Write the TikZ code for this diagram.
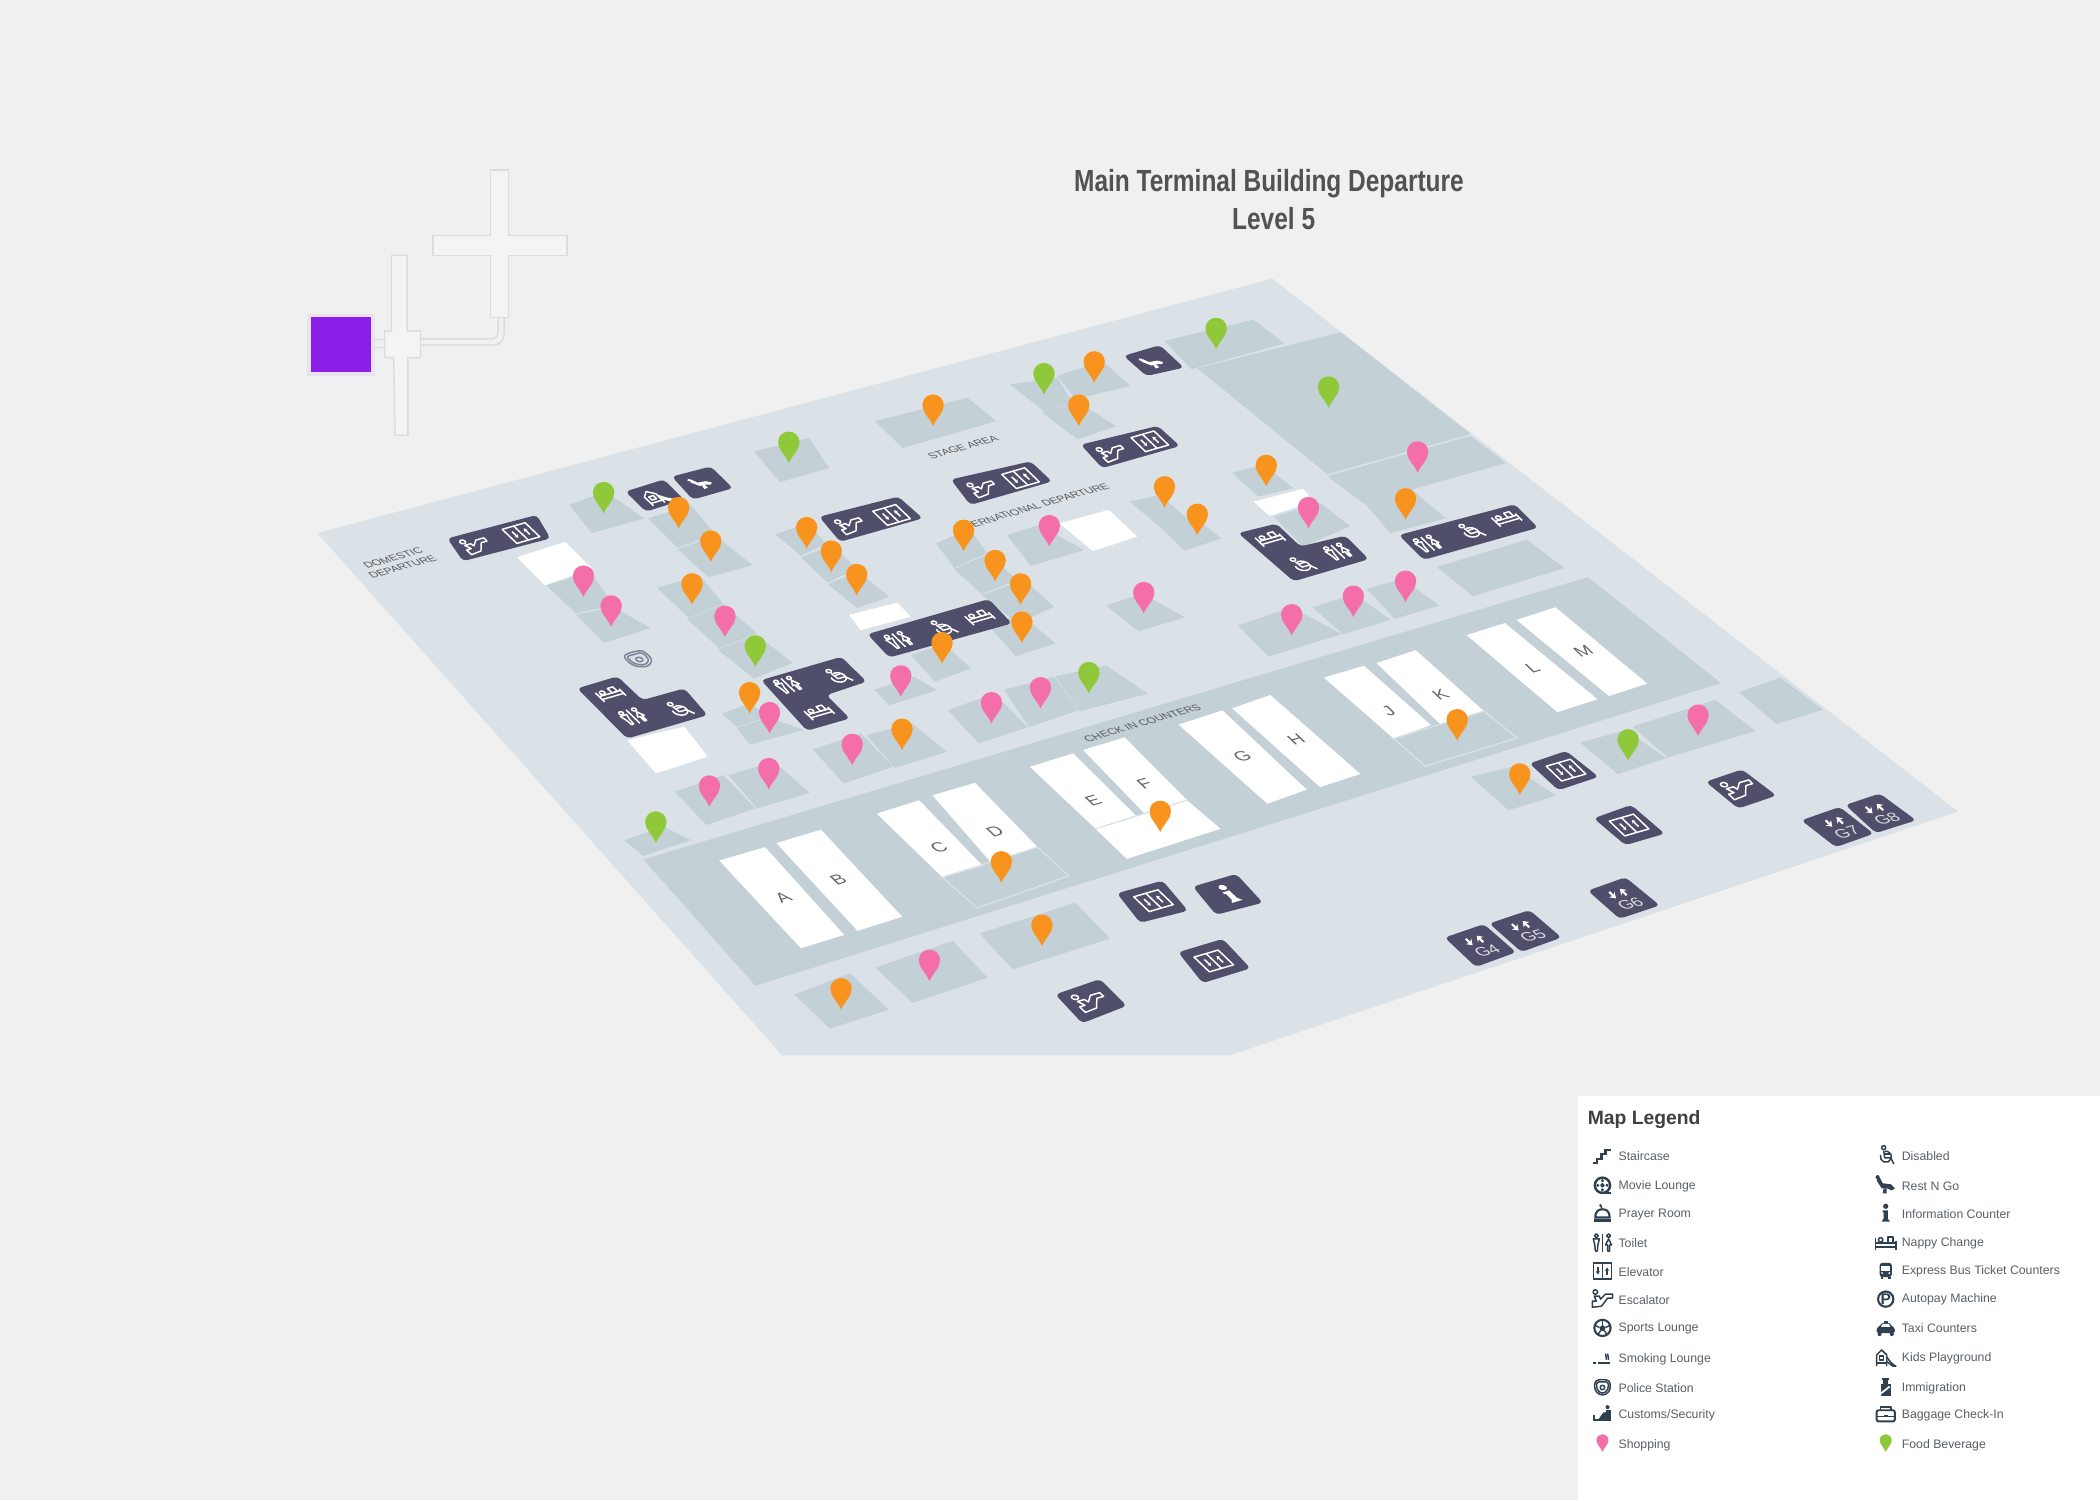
\documentclass[tikz,border=0pt]{standalone}
\usepackage{xcolor}
\usepackage{fontspec}
\usetikzlibrary{arrows.meta}
\setmainfont{Liberation Sans}
\definecolor{pagecolor}{HTML}{F0F0F0}
\definecolor{floorcolor}{HTML}{DAE2E8}
\definecolor{platecolor}{HTML}{C3D0D5}
\definecolor{tilecolor}{HTML}{4F4F6B}
\definecolor{pinorange}{HTML}{F8931D}
\definecolor{pinpink}{HTML}{F46FA9}
\definecolor{pingreen}{HTML}{8FC93A}
\definecolor{shellcolor}{HTML}{D9DDDD}
\definecolor{buildingcolor}{HTML}{8A1EE6}
\definecolor{glowcolor}{HTML}{E9E2F2}
\definecolor{legendicon}{HTML}{2F4050}
\definecolor{legendtext}{HTML}{5A5F66}

\tikzset{
    plate/.style={fill=platecolor},
    desk/.style={fill=white},
    seam/.style={draw=floorcolor, line width=.35pt},
    tile/.style={fill=tilecolor, rounded corners=1.2pt},
    shell/.style={draw=shellcolor, fill=pagecolor!70!white, line width=.4pt},
    iconline/.style={line width=.42pt, line join=round},
    floortext/.style={text=black!65, font=\fontsize{3.05pt}{3.7pt}\selectfont, align=center, transform shape},
    desktext/.style={text=black!60, font=\fontsize{5pt}{6pt}\selectfont, transform shape},
    gatetext/.style={text=white!80!tilecolor, font=\fontsize{4.6pt}{5pt}\selectfont, transform shape},
    titletext/.style={text=black!68, font=\fontsize{8.7pt}{9.8pt}\selectfont\bfseries},
    legendlabel/.style={text=legendtext, font=\fontsize{3.5pt}{4pt}\selectfont, anchor=west, inner sep=0pt},
}

% icons, about 20 units wide
\newcommand{\iconlift}{
    \draw[iconline] (-9,-8) rectangle (9,8);
    \draw[iconline] (0,-8) -- (0,8);
    \draw[iconline,->] (-4.5,-3.5) -- (-4.5,3.5);
    \draw[iconline,->] (4.5,3.5) -- (4.5,-3.5);
}
\newcommand{\iconesc}{
    \draw[iconline] (-7,-7) circle (2.2);
    \draw[iconline] (-10,8) -- (-10,2) -- (-6,2) -- (-8,-3) -- (-3,-3) -- (-2,0) -- (3,-5) -- (10,-5) -- (10,-1) -- (5,-1) -- (-1,7) -- cycle;
}
\newcommand{\icontoilet}{
    \draw[iconline] (-6,-7) circle (1.9);
    \draw[iconline] (-9,-4) -- (-3,-4) -- (-4.5,2) -- (-5,8) -- (-7,8) -- (-7.5,2) -- cycle;
    \draw[iconline] (0,-9) -- (0,9);
    \draw[iconline] (6,-7) circle (1.9);
    \draw[iconline] (6,-4) -- (9,2) -- (7,2) -- (7,8) -- (5,8) -- (5,2) -- (3,2) -- cycle;
}
\newcommand{\icondisabled}{
    \draw[iconline] (-2,-8) circle (2);
    \draw[iconline] (-5,-1) arc (200:-100:5.5);
    \draw[iconline] (-2,-5) -- (-1,2) -- (5,2) -- (8,8);
    \draw[iconline] (-1,-2) -- (4,-2);
}
\newcommand{\iconnappy}{
    \draw[iconline] (-10,7) -- (-10,-5);
    \draw[iconline] (10,7) -- (10,-2);
    \draw[iconline] (-10,0) -- (10,0);
    \draw[iconline] (-10,4) -- (10,4);
    \draw[iconline] (-5,-3) circle (2.2);
    \draw[iconline] (2,-6) rectangle (7,0);
}
\newcommand{\iconrest}{
    \fill (-9,-5) -- (-6,-8) -- (-3,-2) -- (5,-1) -- (9,3) -- (6,5) -- (1,3) -- (-4,3) -- cycle;
    \fill (-8,-8) circle (2);
    \fill (-2,3) -- (1,3) -- (1,8) -- (-3,8) -- cycle;
}
\newcommand{\iconplay}{
    \draw[iconline] (-9,8) -- (-9,-3) -- (-4,-8) -- (1,-3) -- (1,8);
    \draw[iconline] (-6,-2) rectangle (-2,2);
    \draw[iconline] (1,-1) .. controls (4,3) and (6,6) .. (10,8) -- (7,8) .. controls (4,6) and (3,5) .. (1,3);
    \draw[iconline] (-9,5) -- (1,5);
}
\newcommand{\iconinfo}{
    \fill (0,-7) circle (2.6);
    \fill (-3,-3) -- (2,-3) -- (2,5) -- (4,8) -- (-4,8) -- (-2,5) -- (-2,-1) -- (-3,-1) -- cycle;
}
\newcommand{\icongate}[1]{
    \draw[line width=.6pt,-{Stealth[length=1.6pt,width=2.2pt]}] (-4,-9) -- (-4,-2);
    \draw[line width=.6pt,-{Stealth[length=1.6pt,width=2.2pt]}] (4,-2) -- (4,-9);
    \node[gatetext] (gatelabel#1) at (1,6) {#1};
}
\newcommand{\iconstair}{
    \draw[line width=.6pt] (-9,7) -- (-5,7) -- (-5,3) -- (-1,3) -- (-1,-2) -- (3,-2) -- (3,-6) -- (8,-6);
}
\newcommand{\iconmovie}{
    \draw[line width=.7pt] (0,0) circle (7.5);
    \draw[iconline] (0,0) circle (1.5);
    \fill (0,-4.5) circle (1.6);
    \fill (0,4.5) circle (1.6);
    \fill (-4.5,0) circle (1.6);
    \fill (4.5,0) circle (1.6);
    \draw[iconline] (0,7.5) -- (8,7.5);
}
\newcommand{\iconbell}{
    \draw[line width=.6pt] (-7,4) .. controls (-7,-3) and (-3,-4) .. (0,-4) .. controls (3,-4) and (7,-3) .. (7,4) -- cycle;
    \fill (-8,5) rectangle (8,8);
    \draw[iconline] (-2,-8) -- (0,-4);
    \fill (-2,-8) circle (1.3);
}
\newcommand{\iconball}{
    \draw[line width=.6pt] (0,0) circle (8);
    \fill (0,-3) -- (3,-.5) -- (2,3) -- (-2,3) -- (-3,-.5) -- cycle;
    \draw[iconline] (0,-3) -- (0,-8);
    \draw[iconline] (3,-.5) -- (7.5,-2.5);
    \draw[iconline] (-3,-.5) -- (-7.5,-2.5);
    \draw[iconline] (2,3) -- (4.5,6.5);
    \draw[iconline] (-2,3) -- (-4.5,6.5);
}
\newcommand{\iconsmoke}{
    \fill (-9,3) rectangle (-6,5.5);
    \fill (-4,3) rectangle (7,5.5);
    \draw[iconline] (3,-5) .. controls (5,-3) and (2,-2) .. (4,1);
    \draw[iconline] (5,-5) .. controls (7,-3) and (4,-2) .. (6,1);
}
\newcommand{\iconpolice}{
    \draw[iconline, rounded corners=.8pt] (-7,-7) -- (0,-8) -- (7,-7) -- (8,0) -- (6,5) -- (0,8) -- (-6,5) -- (-8,0) -- cycle;
    \draw[iconline, rounded corners=.6pt] (-5.5,-5.5) -- (5.5,-5.5) -- (6,0) -- (4.5,3.5) -- (0,6) -- (-4.5,3.5) -- (-6,0) -- cycle;
    \draw[iconline] (0,0) circle (2.2);
}
\newcommand{\iconcustoms}{
    \fill (-9,1) rectangle (-7,7);
    \fill (-9,5) -- (6,5) -- (6,7) -- (-9,7) -- cycle;
    \fill (-4,5) -- (1,-2) -- (4,-2) -- (4,5) -- cycle;
    \fill (5,-7) circle (2);
    \fill (3,-4) rectangle (8,7);
}
\newcommand{\iconbus}{
    \fill[rounded corners=.8pt] (-6,-8) rectangle (6,6);
    \fill (-5,6) rectangle (-2.5,8);
    \fill (2.5,6) rectangle (5,8);
    \fill[white] (-4.5,-5) rectangle (4.5,0);
    \fill[white] (-3.5,2) circle (1);
    \fill[white] (3.5,2) circle (1);
}
\newcommand{\iconpark}{
    \draw[line width=.6pt] (0,0) circle (7.5);
    \node[font=\fontsize{4.4pt}{5pt}\selectfont\bfseries, text=legendicon, inner sep=0pt] (parkletter) at (0,0) {P};
}
\newcommand{\icontaxi}{
    \fill[rounded corners=.6pt] (-9,0) -- (-6,-1) -- (-4,-5) -- (4,-5) -- (6,-1) -- (9,0) -- (9,5) -- (-9,5) -- cycle;
    \fill (-2,-7) rectangle (2,-5);
    \fill[white] (-3,-4) -- (3,-4) -- (4.5,-1) -- (-4.5,-1) -- cycle;
    \fill (-6,6) circle (2);
    \fill (6,6) circle (2);
}
\newcommand{\iconguard}{
    \fill (-4,-9) rectangle (3,-7);
    \fill (-2.5,-7) rectangle (2,-3.5);
    \fill (-5,-3) -- (5,-3) -- (5,8) -- (-5,8) -- cycle;
    \draw[white,line width=.5pt] (-5,6) -- (4,-1);
}
\newcommand{\iconbag}{
    \draw[line width=.55pt, rounded corners=.6pt] (-9,-4) rectangle (9,7);
    \draw[iconline] (-5,-4) -- (-5,-7) -- (5,-7) -- (5,-4);
    \draw[iconline] (-9,2) -- (9,2);
    \fill (-2,1) rectangle (2,3);
}

% flat on the floor, x along the long edge and y along the short edge
\newcommand{\flaticon}[4][1]{
    \begin{scope}[shift={(#2,#3)}, cm={1,.29,-.72,.69,(0,0)}, scale=#1, color=white]
        #4
    \end{scope}
}
\newcommand{\pin}[4][1]{
    \fill[#2, shift={(#3,#4)}, scale=#1] (0,0) .. controls (-2.5,-6) and (-8,-10) .. (-8,-15.5) .. controls (-8,-20.5) and (-4,-23.5) .. (0,-23.5) .. controls (4,-23.5) and (8,-20.5) .. (8,-15.5) .. controls (8,-10) and (2.5,-6) .. (0,0) -- cycle;
}
\newcommand{\legitem}[5]{
    \begin{scope}[shift={(#1,#2)}, scale=.76, color=legendicon]
        #3
    \end{scope}
    \node[legendlabel] (#4) at ({#1+11.5},{#2+.5}) {#5};
}

\begin{document}
\begin{tikzpicture}[x=0.013393cm, y=-0.013393cm, >={Stealth[length=1pt,width=1.2pt]}]
        \useasboundingbox (0,0) rectangle (1568,1120);
        \fill[pagecolor] (0,0) rectangle (1568,1120);

        % title
        \node[titletext] (maptitle) at (947.5,137) {\scalebox{.8}[1]{Main Terminal Building Departure}};
        \node[titletext] (maplevel) at (951,163) {\scalebox{.8}[1]{Level 5}};

        % small site plan
        \fill[glowcolor] (229.5,234.5) rectangle (280,281);
        \fill[buildingcolor] (232.3,237) rectangle (277.3,277.5);
        \draw[shell] (366.3,127) -- (379.7,127) -- (379.7,175.7) -- (423.3,175.7) -- (423.3,190.7) -- (379.7,190.7) -- (379.7,237) -- (366.3,237) -- (366.3,190.7) -- (323.3,190.7) -- (323.3,175.7) -- (366.3,175.7) -- cycle;
        \draw[shell] (292.3,190.7) -- (304,190.7) -- (304,247) -- (314,247) -- (314,267) -- (304.5,267) -- (304.5,325) -- (295,325) -- (294,267) -- (287.3,267) -- (287.3,247) -- (292.3,247) -- cycle;
        \draw[shellcolor, line width=.45pt] (314,253) -- (366,253) .. controls (370,253) and (372,251) .. (372,247) -- (372,237);
        \draw[shellcolor, line width=.45pt] (314,257.5) -- (368,257.5) .. controls (374,257.5) and (376.5,254) .. (376.5,248) -- (376.5,237);
        \draw[shellcolor, line width=.45pt] (279,253.5) -- (287.3,253.5);
        \draw[shellcolor, line width=.45pt] (279,259.5) -- (287.3,259.5);

        % floor
        \fill[floorcolor] (237,398) -- (950,208) -- (1462,606) -- (918,788) -- (584,788) -- cycle;

        % check in band
        \fill[plate] (480.4,641.7) -- (1185.7,430.9) -- (1285,510) -- (564,736) -- cycle;
        \fill[desk] (537,642.5) -- (571.3,632.5) -- (630.3,698) -- (598,708) -- cycle;
        \fill[desk] (579.7,629.5) -- (613,619.5) -- (673.7,684.5) -- (640.3,695) -- cycle;
        \fill[desk] (654.7,607.5) -- (686.3,597.5) -- (733.7,646.3) -- (703.7,655) -- cycle;
        \fill[desk] (696.3,593.8) -- (728,584.5) -- (774.7,632.5) -- (739.7,643.7) -- cycle;
        \fill[desk] (769,572.5) -- (801.3,562.5) -- (848,608.8) -- (818,618.8) -- cycle;
        \fill[desk] (808.7,560) -- (839.7,550.5) -- (886.3,597.5) -- (854.7,607.5) -- cycle;
        \fill[desk] (818,618.8) -- (886.3,597.5) -- (911.3,618.8) -- (841.3,641.3) -- cycle;
        \fill[desk] (880,541) -- (912.8,530.4) -- (975.7,589.6) -- (946.3,600.1) -- cycle;
        \fill[desk] (920,528.9) -- (948.5,518.9) -- (1015.7,577.9) -- (985.7,587.7) -- cycle;
        \fill[desk] (988.5,505.9) -- (1018.5,497.1) -- (1068.5,541.4) -- (1040.5,551.4) -- cycle;
        \fill[desk] (1027.7,495.1) -- (1057.1,485.4) -- (1108,531) -- (1075.7,540.9) -- cycle;
        \fill[desk] (1095,474.2) -- (1123.7,465.2) -- (1192.8,522.1) -- (1162.8,531.7) -- cycle;
        \fill[desk] (1132.3,462.9) -- (1161.4,453.4) -- (1230,510.4) -- (1201.4,519.7) -- cycle;
        \draw[seam] (703.7,655) -- (774.7,632.5) -- (798,654) -- (729.7,678) -- cycle;
        \draw[seam] (818,618.8) -- (886.3,597.5);
        \draw[seam] (1040.5,551.4) -- (1108,531) -- (1132.8,551) -- (1064.3,572.1) -- cycle;

        % shops, top right
        \fill[plate] (894,275) -- (1001,248) -- (1098,324) -- (991,354) -- cycle;
        \fill[plate] (991,355.5) -- (1098,325.5) -- (1124.5,345.7) -- (1018,375.7) -- cycle;
        \fill[plate] (869.5,254.5) -- (936,238.7) -- (959,256.5) -- (889.5,275.7) -- cycle;
        \fill[plate] (754,287) -- (789.5,282) -- (801,300.7) -- (781,308) -- cycle;
        \fill[plate] (789.5,280.7) -- (823,269.5) -- (844,288.2) -- (803,298) -- cycle;
        \fill[plate] (778,308) -- (806,300.7) -- (833.5,318.2) -- (804.5,328) -- cycle;
        \fill[plate] (653.3,314.5) -- (722.3,297) -- (744,314.5) -- (674,334.5) -- cycle;
        \fill[plate] (563,337) -- (604,327) -- (619,349.5) -- (582.3,360) -- cycle;
        \fill[plate] (752,399.5) -- (776,392) -- (809.5,410.7) -- (769.5,422.5) -- cycle;
        \fill[desk] (791,390.7) -- (828,380.7) -- (849,400.7) -- (816,411.5) -- cycle;
        \fill[plate] (843.5,374.5) -- (866,369.5) -- (887,387.7) -- (864.5,392) -- cycle;
        \fill[plate] (864.5,392) -- (891,385.7) -- (912,402) -- (884.5,411.2) -- cycle;
        \fill[plate] (920,353) -- (943,347) -- (966,364.5) -- (939.5,370.7) -- cycle;
        \fill[desk] (936,374.5) -- (973,365) -- (981,374.5) -- (948,385.2) -- cycle;
        \fill[plate] (951,385.7) -- (986,375.7) -- (1008,393) -- (973,408) -- cycle;
        \fill[plate] (1018,374.5) -- (1053,364.5) -- (1079.5,387) -- (1038,398) -- cycle;
        \fill[plate] (825.7,452) -- (853,443.4) -- (884.8,460.9) -- (850,471.4) -- cycle;
        \fill[plate] (924.3,467.1) -- (964.3,453.4) -- (1002,473.4) -- (947.1,490.2) -- cycle;
        \fill[plate] (980,453.4) -- (1011.4,443.4) -- (1038.5,462.9) -- (1002.8,473.4) -- cycle;
        \fill[plate] (1020.5,439.6) -- (1047.1,432.1) -- (1074.8,452.1) -- (1041.4,462.1) -- cycle;
        \fill[plate] (1072.8,423.4) -- (1140,402.9) -- (1168,424.2) -- (1100,445.1) -- cycle;

        % shops, left
        \fill[plate] (425,377) -- (452,367) -- (481,387) -- (442,398) -- cycle;
        \fill[plate] (484,387) -- (516,377) -- (534,399) -- (506,409) -- cycle;
        \fill[plate] (506,410) -- (534,400) -- (562,422) -- (529,431) -- cycle;
        \fill[desk] (386,416) -- (422,404.5) -- (442,424.5) -- (407,437) -- cycle;
        \fill[plate] (408,437) -- (441,427) -- (458,452) -- (430,458) -- cycle;
        \fill[plate] (430,459) -- (458,453) -- (485.5,469) -- (451,480) -- cycle;
        \fill[plate] (490.6,439) -- (522.6,429.4) -- (539.7,450.6) -- (514,461) -- cycle;
        \fill[plate] (513,462) -- (540,451) -- (565.4,473) -- (537,484) -- cycle;
        \fill[plate] (536,485) -- (565,474) -- (592,495) -- (563,506.6) -- cycle;
        \fill[plate] (579,399) -- (602.6,390.8) -- (617,406) -- (598,415) -- cycle;
        \fill[plate] (598,416) -- (621,407) -- (640,424.4) -- (618,435) -- cycle;
        \fill[plate] (618,436) -- (641,427) -- (664,445.6) -- (640,454) -- cycle;
        \fill[desk] (634,459) -- (670,450) -- (680,460.5) -- (642.6,470.5) -- cycle;
        \fill[plate] (699,405.8) -- (724,394.5) -- (737,413) -- (712.6,424) -- cycle;
        \fill[plate] (712.6,425) -- (737,414) -- (760,433) -- (733,443.5) -- cycle;
        \fill[plate] (733,444.3) -- (765,433) -- (787,453) -- (760,465.5) -- cycle;
        \fill[plate] (738,467) -- (762.6,459) -- (788,480.4) -- (758.3,490) -- cycle;
        \fill[plate] (680,489) -- (705,481) -- (725,499) -- (698.3,509) -- cycle;
        \fill[plate] (652.6,515) -- (682.6,505.3) -- (699.7,515.3) -- (664,526.5) -- cycle;
        \fill[plate] (707.7,530.2) -- (742.6,517.8) -- (767.3,543) -- (731,555) -- cycle;
        \fill[plate] (749.7,515) -- (787,505.3) -- (805.4,530.2) -- (768.3,543) -- cycle;
        \fill[plate] (788,505) -- (826,497) -- (857,518) -- (806.4,531) -- cycle;
        \fill[plate] (607,559.6) -- (642.6,547.6) -- (667,572.5) -- (630,585) -- cycle;
        \fill[plate] (647,548.9) -- (681,540.2) -- (707,561.3) -- (668.3,573.3) -- cycle;
        \fill[plate] (539,532.7) -- (560,525.2) -- (574,535) -- (550,542.6) -- cycle;
        \fill[plate] (550,543.4) -- (574,535.7) -- (600,545) -- (559.7,556) -- cycle;
        \fill[plate] (504,591.2) -- (540,578.7) -- (564,603.6) -- (527.4,616) -- cycle;
        \fill[plate] (544,578.7) -- (578,568.8) -- (604.6,592) -- (565.4,603.6) -- cycle;
        \fill[plate] (466,627.3) -- (495.4,617.3) -- (516,627.3) -- (480.3,639) -- cycle;
        \fill[desk] (468.3,552.6) -- (511,542.6) -- (528.3,565) -- (489.7,577.5) -- cycle;

        % shops, bottom
        \fill[plate] (593,742.5) -- (634.7,726.8) -- (663.7,753.8) -- (619.7,768) -- cycle;
        \fill[plate] (653.7,722.5) -- (711.3,702.5) -- (737.3,730) -- (681.3,748.8) -- cycle;
        \fill[plate] (731.3,697) -- (803,674) -- (828.7,700.8) -- (756.3,723.8) -- cycle;
        \fill[plate] (1098.4,580) -- (1129,572.5) -- (1162,594) -- (1126.4,605) -- cycle;
        \fill[plate] (1180,554.5) -- (1213.6,545) -- (1244,566) -- (1208,578) -- cycle;
        \fill[plate] (1219,542.5) -- (1280.7,522.5) -- (1310.7,545.8) -- (1245.5,565.5) -- cycle;
        \fill[plate] (1298.4,516.8) -- (1329.3,506) -- (1361.3,530) -- (1326.4,540.5) -- cycle;

        % dark tiles
        \fill[tile] (334,402) -- (400.7,384.5) -- (411,402) -- (345.7,419) -- cycle;
        \fill[tile] (467,367) -- (495.7,358) -- (510.7,373) -- (482.3,382) -- cycle;
        \fill[tile] (501.7,355.8) -- (530.7,348.3) -- (547.3,364.5) -- (517.3,373) -- cycle;
        \fill[tile] (611.7,385.8) -- (670.7,370.8) -- (689,387) -- (627.3,404.5) -- cycle;
        \fill[tile] (710,358) -- (769.5,344.5) -- (785.5,359.5) -- (724.5,377) -- cycle;
        \fill[tile] (807,332) -- (864.5,318) -- (881,333) -- (823,349.5) -- cycle;
        \fill[tile] (839,265.7) -- (866,257.7) -- (884,274.5) -- (856,280.7) -- cycle;
        \fill[tile] (924.5,398) -- (953,391) -- (971,408) -- (1004.5,400) -- (1022,417.5) -- (966,434) -- cycle;
        \fill[tile] (1044.5,399.5) -- (1131,376.5) -- (1148.5,394) -- (1063,418) -- cycle;
        \fill[tile] (431,514) -- (461,505) -- (479.7,522.7) -- (511,514) -- (528.3,534) -- (468.3,551.4) -- cycle;
        \fill[tile] (568.3,507.8) -- (628.3,490.4) -- (647,509) -- (617,519) -- (634.6,536.4) -- (602.6,545.6) -- cycle;
        \fill[tile] (647.7,473.5) -- (738.3,447.3) -- (755.5,465.5) -- (664,490.9) -- cycle;
        \fill[tile] (834,667) -- (868,657.5) -- (887,680) -- (851.3,689) -- cycle;
        \fill[tile] (890.7,662) -- (923,652.5) -- (943,674) -- (908,683) -- cycle;
        \fill[tile] (879.7,711) -- (913,701) -- (933.7,723) -- (898,734) -- cycle;
        \fill[tile] (788,742.5) -- (821.3,731) -- (841.3,751) -- (808,764) -- cycle;
        \fill[tile] (1142,570) -- (1169.3,560.7) -- (1193.6,580) -- (1163.6,590) -- cycle;
        \fill[tile] (1190,611) -- (1217.9,601) -- (1243,622.5) -- (1213.6,631) -- cycle;
        \fill[tile] (1273.6,583.7) -- (1300.7,574.5) -- (1326.4,594) -- (1297.9,603.7) -- cycle;
        \fill[tile] (1185.6,665) -- (1213.6,655) -- (1239.3,676) -- (1209.3,686) -- cycle;
        \fill[tile] (1078.7,700) -- (1107.9,690) -- (1132,711) -- (1102,722) -- cycle;
        \fill[tile] (1112,689.5) -- (1142,679.5) -- (1165.9,700) -- (1136,710.8) -- cycle;
        \fill[tile] (1345,612.5) -- (1373.6,602.5) -- (1399,622.5) -- (1370.7,632.5) -- cycle;
        \fill[tile] (1377.9,601) -- (1403.6,592.5) -- (1430.7,612.5) -- (1400.7,622) -- cycle;

        % tile icons
        \flaticon[.85]{355.7}{407}{\iconesc}
        \flaticon[.95]{389}{398}{\iconlift}
        \flaticon[.85]{490.7}{370.7}{\iconplay}
        \flaticon[.68]{524}{360.7}{\iconrest}
        \flaticon[.85]{635.7}{392}{\iconesc}
        \flaticon[.95]{665.7}{384.5}{\iconlift}
        \flaticon[.85]{734.5}{364.5}{\iconesc}
        \flaticon[.95]{762}{357}{\iconlift}
        \flaticon[.85]{831}{338}{\iconesc}
        \flaticon[.95]{858.5}{329.5}{\iconlift}
        \flaticon[.68]{861}{270.7}{\iconrest}
        \flaticon[.8]{948}{402}{\iconnappy}
        \flaticon[.85]{972}{422}{\icondisabled}
        \flaticon[.8]{999}{412}{\icontoilet}
        \flaticon[.8]{1066}{406}{\icontoilet}
        \flaticon[.85]{1098}{397}{\icondisabled}
        \flaticon[.8]{1124.5}{387}{\iconnappy}
        \flaticon[.8]{455.4}{517.8}{\iconnappy}
        \flaticon[.8]{472.6}{535}{\icontoilet}
        \flaticon[.85]{507}{530}{\icondisabled}
        \flaticon[.8]{588.3}{511.5}{\icontoilet}
        \flaticon[.85]{625.4}{505.3}{\icondisabled}
        \flaticon[.8]{611.2}{531.4}{\iconnappy}
        \flaticon[.8]{671}{478}{\icontoilet}
        \flaticon[.85]{704}{469.2}{\icondisabled}
        \flaticon[.8]{731.2}{460.5}{\iconnappy}
        \flaticon{861.3}{672.5}{\iconlift}
        \flaticon{918}{667.5}{\iconinfo}
        \flaticon{906.3}{717.5}{\iconlift}
        \flaticon{814.7}{747.5}{\iconesc}
        \flaticon{1169.3}{575}{\iconlift}
        \flaticon{1216.4}{616}{\iconlift}
        \flaticon{1299.3}{588.7}{\iconesc}
        \flaticon{1212}{671}{\icongate{G6}}
        \flaticon{1105}{706}{\icongate{G4}}
        \flaticon{1139.3}{695}{\icongate{G5}}
        \flaticon{1373.6}{617.5}{\icongate{G7}}
        \flaticon{1403.6}{607.5}{\icongate{G8}}

        % police station sits on the bare floor
        \begin{scope}[shift={(477.4,492.4)}, cm={1,.29,-.72,.69,(0,0)}, color=tilecolor!65!floorcolor]
            \iconpolice
        \end{scope}

        % floor labels
        \begin{scope}[shift={(297,420)}, cm={1,.29,-.72,.69,(0,0)}]
            \node[floortext] (domesticlabel) {DOMESTIC\\DEPARTURE};
        \end{scope}
        \begin{scope}[shift={(719,334)}, cm={1,.29,-.72,.69,(0,0)}]
            \node[floortext] (stagelabel) {STAGE AREA};
        \end{scope}
        \begin{scope}[shift={(770,379)}, cm={1,.29,-.72,.69,(0,0)}]
            \node[floortext] (intllabel) {INTERNATIONAL DEPARTURE};
        \end{scope}
        \begin{scope}[shift={(853,540)}, cm={1,.29,-.72,.69,(0,0)}]
            \node[floortext] (checkinlabel) {CHECK IN COUNTERS};
        \end{scope}

        % counter letters
        \begin{scope}[shift={(584.7,670)}, cm={1,.29,-.72,.69,(0,0)}]
            \node[desktext] (deskA) {A};
        \end{scope}
        \begin{scope}[shift={(626,656.8)}, cm={1,.29,-.72,.69,(0,0)}]
            \node[desktext] (deskB) {B};
        \end{scope}
        \begin{scope}[shift={(701,633)}, cm={1,.29,-.72,.69,(0,0)}]
            \node[desktext] (deskC) {C};
        \end{scope}
        \begin{scope}[shift={(743,620.8)}, cm={1,.29,-.72,.69,(0,0)}]
            \node[desktext] (deskD) {D};
        \end{scope}
        \begin{scope}[shift={(816.3,598)}, cm={1,.29,-.72,.69,(0,0)}]
            \node[desktext] (deskE) {E};
        \end{scope}
        \begin{scope}[shift={(854.7,585)}, cm={1,.29,-.72,.69,(0,0)}]
            \node[desktext] (deskF) {F};
        \end{scope}
        \begin{scope}[shift={(927.7,564.6)}, cm={1,.29,-.72,.69,(0,0)}]
            \node[desktext] (deskG) {G};
        \end{scope}
        \begin{scope}[shift={(967.7,552)}, cm={1,.29,-.72,.69,(0,0)}]
            \node[desktext] (deskH) {H};
        \end{scope}
        \begin{scope}[shift={(1037,530.9)}, cm={1,.29,-.72,.69,(0,0)}]
            \node[desktext] (deskJ) {J};
        \end{scope}
        \begin{scope}[shift={(1075.7,518.4)}, cm={1,.29,-.72,.69,(0,0)}]
            \node[desktext] (deskK) {K};
        \end{scope}
        \begin{scope}[shift={(1144.3,498.4)}, cm={1,.29,-.72,.69,(0,0)}]
            \node[desktext] (deskL) {L};
        \end{scope}
        \begin{scope}[shift={(1182.3,486.4)}, cm={1,.29,-.72,.69,(0,0)}]
            \node[desktext] (deskM) {M};
        \end{scope}

        % pins
        \pin{pingreen}{450.7}{383.3}
        \pin{pinorange}{506.7}{394.5}
        \pin{pinorange}{530.7}{419.5}
        \pin{pinpink}{435.7}{445.7}
        \pin{pinpink}{456.3}{468}
        \pin{pinorange}{516.7}{451.5}
        \pin{pinpink}{541.3}{475.7}
        \pin{pingreen}{589}{345.7}
        \pin{pinorange}{696.7}{318}
        \pin{pinorange}{602.3}{409.5}
        \pin{pinorange}{620.7}{427}
        \pin{pinorange}{639.7}{444.5}
        \pin{pinorange}{719.5}{411.5}
        \pin{pingreen}{908}{260.7}
        \pin{pingreen}{992}{304.5}
        \pin{pinorange}{817}{285.7}
        \pin{pingreen}{779.5}{294.5}
        \pin{pinorange}{805.5}{318}
        \pin{pinpink}{1058.5}{353}
        \pin{pinorange}{945.5}{363}
        \pin{pinorange}{869.5}{379}
        \pin{pinorange}{894}{399.5}
        \pin{pinorange}{1049.5}{388}
        \pin{pinpink}{977}{394.5}
        \pin{pinpink}{783.5}{408}
        \pin{pinorange}{743}{434}
        \pin{pinorange}{762}{451.5}
        \pin{pinorange}{763}{480}
        \pin{pinpink}{854}{458}
        \pin{pinpink}{964.5}{474.5}
        \pin{pinpink}{1010.5}{460.7}
        \pin{pinpink}{1049.5}{449.5}
        \pin{pingreen}{564}{497.8}
        \pin{pinorange}{559.7}{532.7}
        \pin{pinpink}{574.6}{547.6}
        \pin{pinorange}{703.4}{495.4}
        \pin{pinpink}{672.6}{520.2}
        \pin{pinpink}{740.3}{540.2}
        \pin{pinpink}{776.9}{529}
        \pin{pingreen}{813}{517.7}
        \pin{pinpink}{636.3}{571.3}
        \pin{pinorange}{673.5}{560}
        \pin{pinpink}{529.7}{602.4}
        \pin{pinpink}{574}{589.4}
        \pin{pingreen}{489.7}{629.3}
        \pin{pinorange}{747.7}{659}
        \pin{pinorange}{866.3}{621.3}
        \pin{pinorange}{778}{706.3}
        \pin{pinpink}{694}{732.5}
        \pin{pinorange}{628}{753.8}
        \pin{pinorange}{1088}{552.9}
        \pin{pinorange}{1134.8}{593.4}
        \pin{pingreen}{1215.7}{567.9}
        \pin{pinpink}{1267.9}{549.5}

        % legend
        \fill[white] (1178,818) rectangle (1568,1120);
        \node[text=black!75, font=\fontsize{5.5pt}{6.5pt}\selectfont\bfseries, anchor=west, inner sep=0pt] (legendtitle) at (1185,836) {Map Legend};

        \legitem{1196.5}{863}{\iconstair}{legstaircase}{Staircase}
        \legitem{1196.5}{885}{\iconmovie}{legmovie}{Movie Lounge}
        \legitem{1196.5}{906}{\iconbell}{legprayer}{Prayer Room}
        \legitem{1196.5}{928}{\icontoilet}{legtoilet}{Toilet}
        \legitem{1196.5}{949}{\iconlift}{legelevator}{Elevator}
        \legitem{1196.5}{970}{\iconesc}{legescalator}{Escalator}
        \legitem{1196.5}{991.5}{\iconball}{legsports}{Sports Lounge}
        \legitem{1196.5}{1014.5}{\iconsmoke}{legsmoking}{Smoking Lounge}
        \legitem{1196.5}{1036}{\iconpolice}{legpolice}{Police Station}
        \legitem{1196.5}{1056}{\iconcustoms}{legcustoms}{Customs/Security}
        \pin[.56]{pinpink}{1196.5}{1084}
        \node[legendlabel] (legshopping) at (1208,1079) {Shopping};

        \legitem{1408}{863}{\icondisabled}{legdisabled}{Disabled}
        \legitem{1408}{885}{\iconrest}{legrest}{Rest N Go}
        \legitem{1408}{906}{\iconinfo}{leginfo}{Information Counter}
        \legitem{1408}{928}{\iconnappy}{legnappy}{Nappy Change}
        \legitem{1408}{949}{\iconbus}{legbus}{Express Bus Ticket Counters}
        \legitem{1408}{970}{\iconpark}{legautopay}{Autopay Machine}
        \legitem{1408}{991.5}{\icontaxi}{legtaxi}{Taxi Counters}
        \legitem{1408}{1014}{\iconplay}{legkids}{Kids Playground}
        \legitem{1408}{1036}{\iconguard}{legimmigration}{Immigration}
        \legitem{1408}{1056}{\iconbag}{legbaggage}{Baggage Check-In}
        \pin[.56]{pingreen}{1408}{1084}
        \node[legendlabel] (legfood) at (1419.5,1079) {Food Beverage};
    \end{tikzpicture}
\end{document}
